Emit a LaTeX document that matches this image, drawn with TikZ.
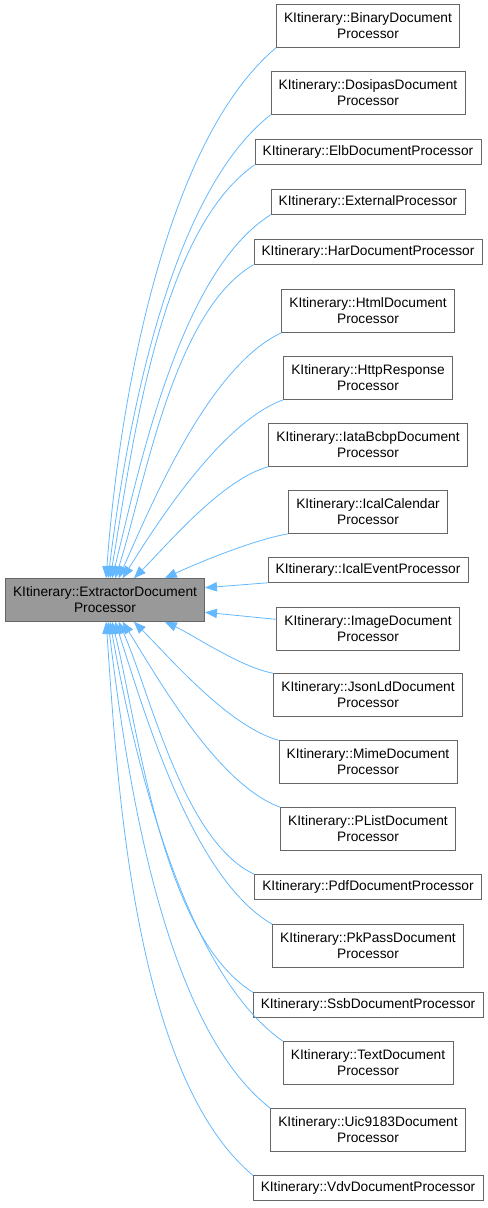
\documentclass[tikz,border=0pt]{standalone}
\usepackage{fontspec}
\setmainfont{Liberation Sans}
\usetikzlibrary{arrows.meta}
\definecolor{edgeblue}{HTML}{63B8FF}
\definecolor{boxline}{HTML}{666666}
\definecolor{basefill}{HTML}{999999}
\tikzset{
  cls/.style={draw=boxline, fill=white, font=\fontsize{10.3}{12}\selectfont, align=center,
    inner xsep=5.8pt, inner ysep=2pt, minimum height=18.75pt},
  cls2/.style={cls, minimum height=32.25pt},
  inh/.style={color=edgeblue, line width=0.6pt, {Triangle[length=9pt,width=7pt]}-},
}

\begin{document}
\begin{tikzpicture}[x=0.75pt, y=-0.75pt]
        \useasboundingbox (0,0) rectangle (488,1208);

        \node[cls2, fill=basefill] (base) at (105,600) {KItinerary::ExtractorDocument\\Processor};

        \node[cls2] (c01) at (368,26) {KItinerary::BinaryDocument\\Processor};
        \node[cls2] (c02) at (368,93) {KItinerary::DosipasDocument\\Processor};
        \node[cls] (c03) at (368,152) {KItinerary::ElbDocumentProcessor};
        \node[cls] (c04) at (368,202) {KItinerary::ExternalProcessor};
        \node[cls] (c05) at (368,252) {KItinerary::HarDocumentProcessor};
        \node[cls2] (c06) at (368,311) {KItinerary::HtmlDocument\\Processor};
        \node[cls2] (c07) at (368,378) {KItinerary::HttpResponse\\Processor};
        \node[cls2] (c08) at (368,445) {KItinerary::IataBcbpDocument\\Processor};
        \node[cls2] (c09) at (368,512) {KItinerary::IcalCalendar\\Processor};
        \node[cls] (c10) at (368,570) {KItinerary::IcalEventProcessor};
        \node[cls2] (c11) at (368,629) {KItinerary::ImageDocument\\Processor};
        \node[cls2] (c12) at (368,695) {KItinerary::JsonLdDocument\\Processor};
        \node[cls2] (c13) at (368,762) {KItinerary::MimeDocument\\Processor};
        \node[cls2] (c14) at (368,829) {KItinerary::PListDocument\\Processor};
        \node[cls] (c15) at (368,887) {KItinerary::PdfDocumentProcessor};
        \node[cls2] (c16) at (368,946) {KItinerary::PkPassDocument\\Processor};
        \node[cls] (c17) at (368,1005) {KItinerary::SsbDocumentProcessor};
        \node[cls2] (c18) at (368,1063) {KItinerary::TextDocument\\Processor};
        \node[cls2] (c19) at (368,1130) {KItinerary::Uic9183Document\\Processor};
        \node[cls] (c20) at (368,1188) {KItinerary::VdvDocumentProcessor};

        \path[inh]
            (base.87) edge[out=86, in=220, looseness=0.7] (c01.south west)
            (base.82) edge[out=83, in=218, looseness=0.7] (c02.south west)
            (base.77) edge[out=80, in=215, looseness=0.7] (c03.south west)
            (base.72) edge[out=76, in=212, looseness=0.7] (c04.south west)
            (base.65) edge[out=72, in=210, looseness=0.7] (c05.south west)
            (base.58) edge[out=66, in=205, looseness=0.7] (c06.south west)
            (base.51) edge[out=58, in=200, looseness=0.7] (c07.south west)
            (base.37) edge[out=45, in=195, looseness=0.7] (c08.south west)
            (base.20) edge[out=25, in=190, looseness=0.7] (c09.south west)
            (base.7) edge (c10.south west)
            (base.-7) edge (c11.174)
            (base.-20) edge[out=-25, in=170, looseness=0.7] (c12.north west)
            (base.-37) edge[out=-45, in=165, looseness=0.7] (c13.north west)
            (base.-51) edge[out=-58, in=160, looseness=0.7] (c14.north west)
            (base.-58) edge[out=-66, in=155, looseness=0.7] (c15.north west)
            (base.-65) edge[out=-72, in=150, looseness=0.7] (c16.north west)
            (base.-72) edge[out=-76, in=148, looseness=0.7] (c17.north west)
            (base.-77) edge[out=-80, in=145, looseness=0.7] (c18.north west)
            (base.-82) edge[out=-83, in=142, looseness=0.7] (c19.north west)
            (base.-87) edge[out=-86, in=140, looseness=0.7] (c20.north west);
\end{tikzpicture}
\end{document}
